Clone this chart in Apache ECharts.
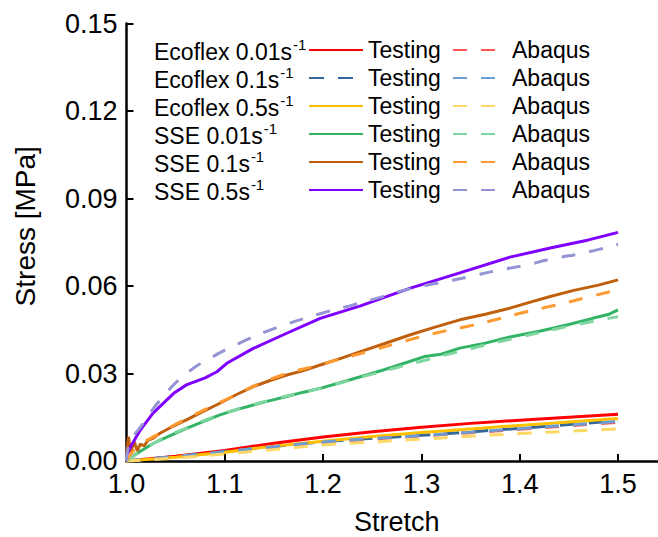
<!DOCTYPE html>
<html><head><meta charset="utf-8">
<script src="https://cdn.jsdelivr.net/npm/echarts@6/dist/echarts.min.js"></script>
<style>html,body{margin:0;padding:0;background:#fff}#c{width:658px;height:537px}</style>
</head><body><div id="c"></div>
<script>
// ---- data ----
const groupNames = ['Ecoflex 0.01', 'Ecoflex 0.1', 'Ecoflex 0.5', 'SSE 0.01', 'SSE 0.1', 'SSE 0.5'];
const rateUnit = 's';
const rateSup = '-1';
const xTickLabels = ['1.0', '1.1', '1.2', '1.3', '1.4', '1.5'];
const yTickLabels = ['0.00', '0.03', '0.06', '0.09', '0.12', '0.15'];

const ecoflex001Testing = [[1.0,0],[1.05,0.0016],[1.1,0.0036],[1.15,0.0061],[1.2,0.0082],[1.25,0.0100],[1.3,0.0116],[1.35,0.0129],[1.4,0.0140],[1.45,0.0150],[1.5,0.0160]];
const ecoflex001Abaqus  = [[1.0,0],[1.05,0.0014],[1.1,0.0031],[1.15,0.0048],[1.2,0.0063],[1.25,0.0075],[1.3,0.0086],[1.35,0.0097],[1.4,0.0109],[1.45,0.0121],[1.5,0.0133]];
const ecoflex01Testing  = [[1.0,0],[1.05,0.0015],[1.1,0.0033],[1.15,0.0050],[1.2,0.0066],[1.25,0.0078],[1.3,0.0088],[1.35,0.0100],[1.4,0.0112],[1.45,0.0125],[1.5,0.0138]];
const ecoflex01Abaqus   = [[1.0,0],[1.05,0.0015],[1.1,0.0032],[1.15,0.0049],[1.2,0.0065],[1.25,0.0077],[1.3,0.0087],[1.35,0.0099],[1.4,0.0111],[1.45,0.0123],[1.5,0.0136]];
const ecoflex05Testing  = [[1.0,0],[1.05,0.0013],[1.1,0.0030],[1.15,0.0051],[1.2,0.0068],[1.25,0.0084],[1.3,0.0098],[1.35,0.0110],[1.4,0.0122],[1.45,0.0134],[1.5,0.0146]];
const ecoflex05Abaqus   = [[1.0,0],[1.05,0.0010],[1.1,0.0024],[1.15,0.0039],[1.2,0.0055],[1.25,0.0065],[1.3,0.0075],[1.35,0.0085],[1.4,0.0094],[1.45,0.0102],[1.5,0.0110]];
const sse001Testing = [[1.0,0],[1.01,0.0025],[1.027,0.0060],[1.045,0.0088],[1.061,0.0112],[1.078,0.0135],[1.095,0.0158],[1.112,0.0176],[1.129,0.0192],[1.146,0.0207],[1.163,0.0221],[1.18,0.0236],[1.197,0.0249],[1.218,0.0269],[1.238,0.0289],[1.262,0.0313],[1.288,0.0341],[1.303,0.0358],[1.32,0.0366],[1.339,0.0387],[1.365,0.0404],[1.39,0.0425],[1.42,0.0445],[1.45,0.0468],[1.475,0.0490],[1.49,0.0502],[1.5,0.0518]];
const sse001Abaqus  = [[1.0,0],[1.03,0.0065],[1.06,0.0112],[1.1,0.0164],[1.15,0.0212],[1.2,0.0252],[1.25,0.0298],[1.3,0.0342],[1.35,0.0385],[1.4,0.0425],[1.45,0.0462],[1.5,0.0495]];
const sse01Testing  = [[1.0,0.002],[1.002,0.0083],[1.004,0.0030],[1.008,0.0065],[1.011,0.0035],[1.014,0.0058],[1.018,0.0052],[1.022,0.0072],[1.027,0.0078],[1.034,0.0095],[1.045,0.0115],[1.061,0.0141],[1.075,0.0165],[1.095,0.0198],[1.112,0.0228],[1.129,0.0255],[1.146,0.0276],[1.163,0.0295],[1.18,0.0310],[1.197,0.0329],[1.218,0.0352],[1.238,0.0375],[1.262,0.0402],[1.288,0.0432],[1.313,0.0458],[1.339,0.0484],[1.365,0.0503],[1.39,0.0524],[1.41,0.0544],[1.431,0.0564],[1.455,0.0585],[1.48,0.0603],[1.5,0.0621]];
const sse01Abaqus   = [[1.0,0],[1.01,0.0045],[1.03,0.0088],[1.06,0.0143],[1.1,0.0209],[1.15,0.0285],[1.2,0.0333],[1.254,0.0383],[1.285,0.0413],[1.316,0.0440],[1.346,0.0461],[1.377,0.0486],[1.407,0.0512],[1.434,0.0532],[1.465,0.0558],[1.5,0.0587]];
const sse05Testing  = [[1.0,0.002],[1.004,0.0048],[1.014,0.0106],[1.027,0.0164],[1.048,0.0232],[1.061,0.0261],[1.08,0.0285],[1.092,0.0306],[1.102,0.0335],[1.129,0.0386],[1.163,0.0438],[1.197,0.0489],[1.238,0.0532],[1.288,0.0592],[1.339,0.0645],[1.39,0.0699],[1.431,0.0730],[1.47,0.0758],[1.5,0.0784]];
const sse05Abaqus   = [[1.0,0],[1.002,0.0049],[1.017,0.0129],[1.037,0.0220],[1.061,0.0300],[1.088,0.0358],[1.115,0.0404],[1.146,0.0449],[1.197,0.0505],[1.227,0.0532],[1.258,0.0561],[1.288,0.0590],[1.317,0.0610],[1.346,0.0630],[1.377,0.0653],[1.407,0.0672],[1.431,0.0692],[1.466,0.0714],[1.5,0.0743]];

const testingData = [ecoflex001Testing, ecoflex01Testing, ecoflex05Testing, sse001Testing, sse01Testing, sse05Testing];
const abaqusData  = [ecoflex001Abaqus, ecoflex01Abaqus, ecoflex05Abaqus, sse001Abaqus, sse01Abaqus, sse05Abaqus];

// ---- styles ----
const testingColors = ['#FF0000', '#336699', '#FFC000', '#33B366', '#C0600E', '#8000FF'];
const abaqusColors  = ['#FF5555', '#6A9ED4', '#FFD966', '#80D6A0', '#FF9A33', '#9494D4'];
const testingDashed = [false, true, false, false, false, false];
const FONT = 'Liberation Sans, Arial, sans-serif';

const testingNames = groupNames.map(g => g + rateUnit + rateSup + ' Testing');
const abaqusNames  = groupNames.map(g => g + rateUnit + rateSup + ' Abaqus');

const series = [];
testingData.forEach((d, i) => series.push({
  name: testingNames[i], type: 'line', data: d, showSymbol: false, symbol: 'none',
  smooth: false, z: 2,
  lineStyle: { color: testingColors[i], width: 3, type: testingDashed[i] ? [15, 14] : 'solid' },
  itemStyle: { color: testingColors[i] }
}));
abaqusData.forEach((d, i) => series.push({
  name: abaqusNames[i], type: 'line', data: d, showSymbol: false, symbol: 'none',
  smooth: true, z: 3,
  lineStyle: { color: abaqusColors[i], width: 3, type: [14, 14] },
  itemStyle: { color: abaqusColors[i] }
}));

const labelTexts = groupNames.map((g, i) => ({
  type: 'text', left: 154, top: 37 + 28 * i, z: 10,
  style: {
    text: '{n|' + g + rateUnit + '}{s|' + rateSup + '}',
    rich: {
      n: { fontSize: 23, fontFamily: FONT, fill: '#000', lineHeight: 26, verticalAlign: 'bottom' },
      s: { fontSize: 15, fontFamily: FONT, fill: '#000', lineHeight: 15, verticalAlign: 'top', padding: [0, 0, 0, 1] }
    }
  }
}));

const legendCommon = {
  orient: 'vertical', itemGap: 4, itemHeight: 10, itemWidth: 54, padding: 0,
  itemStyle: { opacity: 0 },
  textStyle: { fontSize: 23, fontFamily: FONT, color: '#000', lineHeight: 24 },
  inactiveColor: '#000', selectedMode: false
};

const chart = echarts.init(document.getElementById('c'), null, { renderer: 'svg' });
chart.setOption({
  animation: false,
  backgroundColor: '#fff',
  grid: { left: 126.5, top: 23.5, bottom: 76, right: -9.2, containLabel: false, outerBoundsMode: 'none' },
  xAxis: {
    type: 'value', min: 1.0, max: 1.55, interval: 0.1,
    name: 'Stretch', nameLocation: 'middle', nameGap: 47,
    nameTextStyle: { fontSize: 27, lineHeight: 28, fontFamily: FONT, color: '#000' },
    axisLine: { show: true, onZero: false, lineStyle: { color: '#000', width: 2.5 } },
    axisTick: { show: true, inside: true, length: 7, lineStyle: { color: '#000', width: 2 } },
    axisLabel: { fontSize: 27, fontFamily: FONT, color: '#000', margin: 9, showMaxLabel: false,
      formatter: v => { const i = Math.round((v - 1.0) / 0.1); return Math.abs(v - (1.0 + i * 0.1)) < 1e-6 && xTickLabels[i] ? xTickLabels[i] : ''; } },
    splitLine: { show: false }
  },
  yAxis: {
    type: 'value', min: 0, max: 0.15, interval: 0.03,
    name: 'Stress [MPa]', nameLocation: 'middle', nameGap: 87,
    nameTextStyle: { fontSize: 28, fontFamily: FONT, color: '#000', padding: [0, 0, 0, 32] },
    axisLine: { show: true, onZero: false, lineStyle: { color: '#000', width: 2.5 } },
    axisTick: { show: true, inside: true, length: 7, lineStyle: { color: '#000', width: 2 } },
    axisLabel: { fontSize: 27, fontFamily: FONT, color: '#000', margin: 9,
      formatter: v => { const i = Math.round(v / 0.03); return yTickLabels[i] || ''; } },
    splitLine: { show: false }
  },
  legend: [
    Object.assign({}, legendCommon, { left: 308, top: 38, data: testingNames, formatter: () => 'Testing' }),
    Object.assign({}, legendCommon, { left: 452, top: 38, data: abaqusNames, formatter: () => 'Abaqus' })
  ],
  graphic: labelTexts,
  series: series
});
</script></body></html>
